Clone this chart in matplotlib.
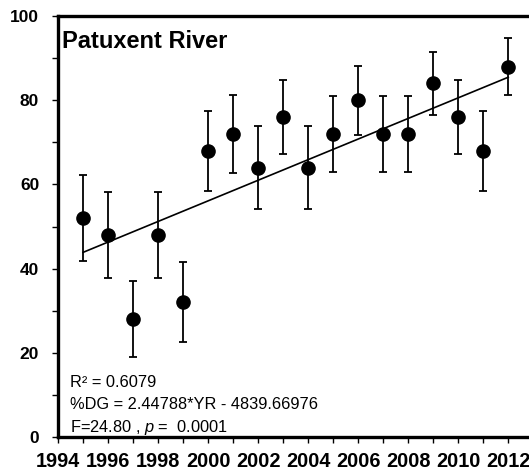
import matplotlib
matplotlib.use("Agg")
import matplotlib.pyplot as plt
from matplotlib.ticker import MultipleLocator
import numpy as np

# Percent DG per year with standard error
years = [1995, 1996, 1997, 1998, 1999, 2000, 2001, 2002, 2003,
         2004, 2005, 2006, 2007, 2008, 2009, 2010, 2011, 2012]
pct_dg = [52, 48, 28, 48, 32, 68, 72, 64, 76,
          64, 72, 80, 72, 72, 84, 76, 68, 88]
std_err = [10.2, 10.2, 9.0, 10.2, 9.5, 9.5, 9.2, 9.8, 8.7,
           9.8, 9.1, 8.2, 9.1, 9.1, 7.5, 8.7, 9.5, 6.7]

# Fitted trend: %DG = slope*YR + intercept
slope = 2.44788
intercept = -4839.66976
r_squared = 0.6079
f_stat = 24.80
p_value = 0.0001

x_ticks = list(range(1994, 2013, 2))
y_ticks = [0, 20, 40, 60, 80, 100]

plt.rcParams["mathtext.fontset"] = "custom"
plt.rcParams["mathtext.rm"] = "Liberation Sans"
plt.rcParams["mathtext.it"] = "Liberation Sans:italic"

fig = plt.figure(figsize=(5.29, 4.72), dpi=100)
ax = fig.add_axes([0.1096, 0.0742, 0.8904, 0.8918])

ax.errorbar(years, pct_dg, yerr=std_err, fmt="o", color="black",
            markersize=9.5, elinewidth=1.3, capsize=2.7, capthick=1.3,
            zorder=3)

fit_x = np.array([years[0], years[-1]])
ax.plot(fit_x, slope * fit_x + intercept, color="black", linewidth=1.2, zorder=2)

ax.set_xlim(1994, 2012.83)
ax.set_ylim(0, 100)
ax.set_xticks(x_ticks)
ax.set_yticks(y_ticks)
ax.xaxis.set_minor_locator(MultipleLocator(1))
ax.yaxis.set_minor_locator(MultipleLocator(10))

ax.tick_params(axis="both", which="both", direction="out", length=4.5,
               width=1.0, color="black")
ax.tick_params(axis="x", which="major", pad=6.5)
ax.tick_params(axis="y", which="major", pad=9)

for lab in ax.get_xticklabels():
    lab.set_fontfamily("Liberation Sans")
    lab.set_fontweight("bold")
    lab.set_fontsize(14.3)
for lab in ax.get_yticklabels():
    lab.set_fontfamily("Liberation Sans")
    lab.set_fontweight("bold")
    lab.set_fontsize(12.5)

for side in ["left", "bottom", "top"]:
    ax.spines[side].set_linewidth(2.4)
ax.spines["right"].set_visible(False)

ax.text(0.008, 0.968, "Patuxent River", transform=ax.transAxes,
        ha="left", va="top", fontsize=17, fontweight="bold",
        family="Liberation Sans")

stats_font = dict(fontsize=11.8, family="Liberation Sans", ha="left",
                  va="baseline", transform=ax.transAxes)
ax.text(0.025, 0.119, f"R\u00b2 = {r_squared:.4f}", **stats_font)
ax.text(0.025, 0.066,
        f"%DG = {slope:.5f}*YR - {abs(intercept):.5f}", **stats_font)
ax.text(0.025, 0.012, f"F={f_stat:.2f} , $\\it{{p}}$ =  {p_value:.4f}",
        **stats_font)

fig.savefig("out.png", dpi=100)
